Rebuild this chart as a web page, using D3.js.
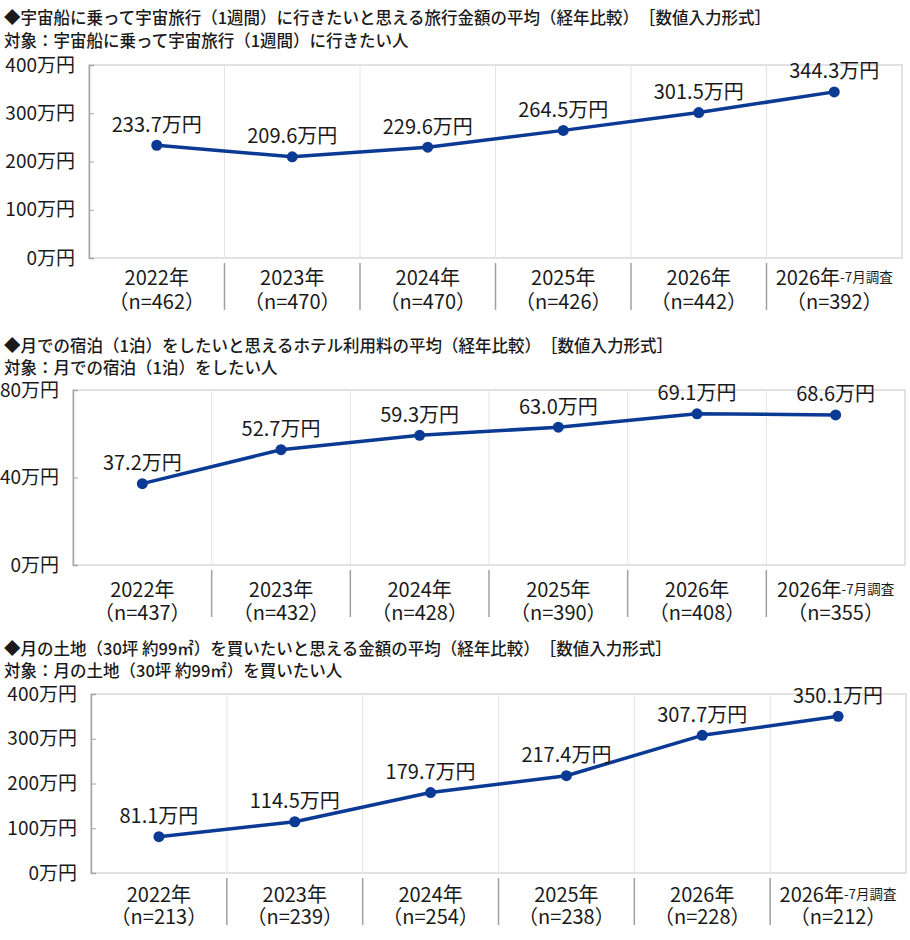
<!DOCTYPE html>
<meta charset="utf-8">
<head>
	<title>宇宙・月に関する金額の平均</title>
	<script src="https://cdn.jsdelivr.net/npm/d3@7"></script>
	<style>
		body { margin: 0; background: #fff; }
		svg { font-family: "Noto Sans CJK JP", "Noto Sans", sans-serif; }
		.title { font-size: 16.5px; font-weight: 500; fill: #1a1a1a; }
		.tick text { font-size: 19px; fill: #1a1a1a; }
		.xlab { font-size: 20px; fill: #1a1a1a; }
		.xlab .small { font-size: 13.5px; }
		.vlab { font-size: 20px; fill: #1a1a1a; }
	</style>
</head>
<body>
	<div id="chart"></div>
	<script>
		// categories (shared by all three panels)
		var categories = ["2022年", "2023年", "2024年", "2025年", "2026年", "2026年-7月調査"];

		// panel 1: 宇宙旅行
		var nSpace = [462, 470, 470, 426, 442, 392];
		var space = [233.7, 209.6, 229.6, 264.5, 301.5, 344.3];
		var ticksSpace = [0, 100, 200, 300, 400];

		// panel 2: 月のホテル
		var nHotel = [437, 432, 428, 390, 408, 355];
		var hotel = [37.2, 52.7, 59.3, 63.0, 69.1, 68.6];
		var ticksHotel = [0, 40, 80];

		// panel 3: 月の土地
		var nLand = [213, 239, 254, 238, 228, 212];
		var land = [81.1, 114.5, 179.7, 217.4, 307.7, 350.1];
		var ticksLand = [0, 100, 200, 300, 400];

		var width = 910, height = 940;
		var lineColor = "#0b3a94";

		var svg = d3.select("#chart").append("svg")
			.attr("width", width)
			.attr("height", height);

		var panels = [
			{
				title: "◆宇宙船に乗って宇宙旅行（1週間）に行きたいと思える旅行金額の平均（経年比較）　［数値入力形式］",
				sub: "対象：宇宙船に乗って宇宙旅行（1週間）に行きたい人",
				values: space, n: nSpace, ticks: ticksSpace,
				left: 89, right: 902, top: 65, bottom: 258, titleY: 17, subY: 40, lab: [18, 42]
			},
			{
				title: "◆月での宿泊（1泊）をしたいと思えるホテル利用料の平均（経年比較）　［数値入力形式］",
				sub: "対象：月での宿泊（1泊）をしたい人",
				values: hotel, n: nHotel, ticks: ticksHotel,
				left: 73, right: 905, top: 390, bottom: 565, titleY: 345, subY: 367, lab: [23, 46]
			},
			{
				title: "◆月の土地（30坪 約99㎡）を買いたいと思える金額の平均（経年比較）　［数値入力形式］",
				sub: "対象：月の土地（30坪 約99㎡）を買いたい人",
				values: land, n: nLand, ticks: ticksLand,
				left: 91, right: 906, top: 694, bottom: 873, titleY: 648, subY: 670, lab: [20, 42]
			}
		];

		panels.forEach(drawPanel);

		function drawPanel(p) {
			var g = svg.append("g");

			g.append("text").attr("class", "title")
				.attr("x", 4).attr("y", p.titleY)
				.attr("dominant-baseline", "central")
				.text(p.title);
			g.append("text").attr("class", "title")
				.attr("x", 4).attr("y", p.subY)
				.attr("dominant-baseline", "central")
				.text(p.sub);

			var x = d3.scaleBand().domain(categories).range([p.left, p.right]).padding(0);
			var y = d3.scaleLinear().domain([0, d3.max(p.ticks)]).range([p.bottom, p.top]);
			var bw = x.bandwidth();
			var cx = function (c) { return x(c) + bw / 2; };

			// frame
			g.append("rect")
				.attr("x", p.left).attr("y", p.top)
				.attr("width", p.right - p.left).attr("height", p.bottom - p.top)
				.attr("fill", "none").attr("stroke", "#d9d9d9").attr("stroke-width", 1.5);

			// vertical gridlines + separators under the axis
			var inner = categories.slice(1);
			g.selectAll(".vgrid").data(inner).enter().append("line")
				.attr("x1", function (c) { return x(c); }).attr("x2", function (c) { return x(c); })
				.attr("y1", p.top).attr("y2", p.bottom)
				.attr("stroke", "#e4e4e4").attr("stroke-width", 1);
			g.selectAll(".sep").data(inner).enter().append("line")
				.attr("x1", function (c) { return x(c); }).attr("x2", function (c) { return x(c); })
				.attr("y1", p.bottom + 5).attr("y2", p.bottom + 52)
				.attr("stroke", "#a0a0a0").attr("stroke-width", 1.5);

			// y axis
			var yAxis = d3.axisLeft(y)
				.tickValues(p.ticks)
				.tickSize(-5)
				.tickPadding(14)
				.tickFormat(function (d) { return d + "万円"; });
			var ya = g.append("g")
				.attr("transform", "translate(" + p.left + ",0)")
				.call(yAxis);
			ya.select(".domain").attr("stroke", "#a6a6a6").attr("stroke-width", 1.5);
			ya.selectAll(".tick line").attr("stroke", "#a6a6a6");
			ya.attr("font-family", null).attr("font-size", null);

			// x labels: year line (with small suffix) and n line as separate texts
			var yr = g.selectAll(".xyear").data(categories).enter().append("text")
				.attr("class", "xlab")
				.attr("text-anchor", "middle")
				.attr("dominant-baseline", "central")
				.attr("x", cx)
				.attr("y", p.bottom + p.lab[0]);
			yr.each(function (c) {
				var t = d3.select(this);
				var m = c.match(/^(.*年)(.*)$/);
				t.append("tspan").text(m[1]);
				if (m[2]) t.append("tspan").attr("class", "small").text(m[2]);
			});
			g.selectAll(".xn").data(categories).enter().append("text")
				.attr("class", "xlab")
				.attr("text-anchor", "middle")
				.attr("dominant-baseline", "central")
				.attr("x", cx)
				.attr("y", p.bottom + p.lab[1])
				.text(function (c, i) { return "（n=" + p.n[i] + "）"; });

			// line + points
			var line = d3.line()
				.x(function (d, i) { return cx(categories[i]); })
				.y(function (d) { return y(d); });
			g.append("path").datum(p.values)
				.attr("d", line)
				.attr("fill", "none")
				.attr("stroke", lineColor)
				.attr("stroke-width", 3.5)
				.attr("stroke-linejoin", "round");
			g.selectAll(".pt").data(p.values).enter().append("circle")
				.attr("cx", function (d, i) { return cx(categories[i]); })
				.attr("cy", function (d) { return y(d); })
				.attr("r", 5.5)
				.attr("fill", lineColor);

			// value labels
			g.selectAll(".vlab").data(p.values).enter().append("text")
				.attr("class", "vlab")
				.attr("text-anchor", "middle")
				.attr("dominant-baseline", "central")
				.attr("x", function (d, i) { return cx(categories[i]); })
				.attr("y", function (d) { return y(d) - 22; })
				.text(function (d) { return d.toFixed(1) + "万円"; });
		}
	</script>
</body>
</html>
